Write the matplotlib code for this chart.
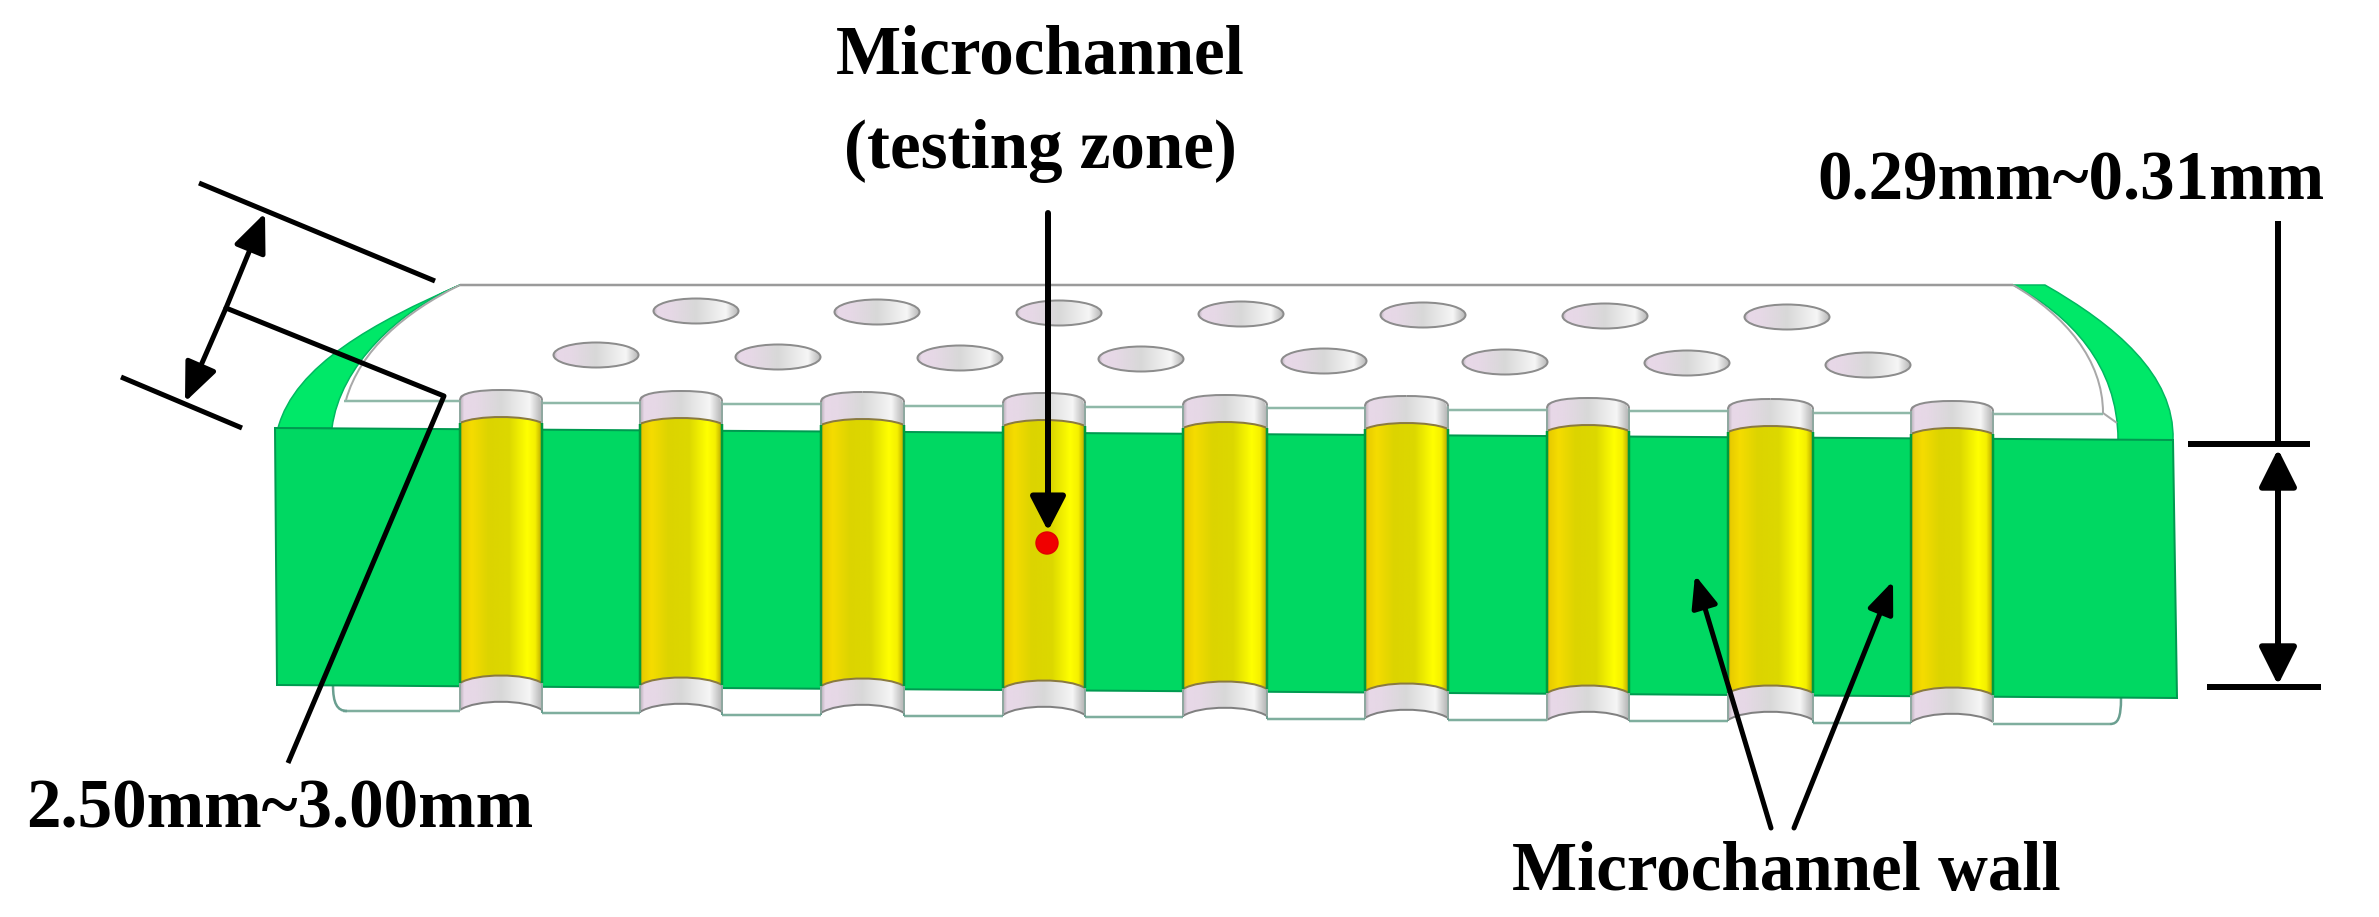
import numpy as np
import matplotlib
matplotlib.use("Agg")
import matplotlib.pyplot as plt
from matplotlib.colors import LinearSegmentedColormap
from matplotlib.patches import Ellipse, PathPatch, Circle
from matplotlib.path import Path

# everything in pixels
channel_left = [460, 640, 821, 1003, 1183, 1365, 1547, 1728, 1911]
channel_right = [542, 722, 904, 1085, 1267, 1448, 1629, 1813, 1993]
yellow_top = [415, 416, 417, 418, 420, 421, 423, 424, 426]
yellow_bottom = [673, 675, 676, 678, 679, 681, 683, 683, 685]

holes_back_x = [696, 877, 1059, 1241, 1423, 1605, 1787]
holes_back_y = [311, 312, 313, 314, 315, 316, 317]
holes_front_x = [596, 778, 960, 1141, 1324, 1505, 1687, 1868]
holes_front_y = [355, 357, 358, 359, 361, 362, 363, 365]

# strip pieces, left end, then one for every gap, then right end
strip_top = [401, 403, 404, 406, 407, 408, 410, 411, 413, 414]
strip_bottom = [711, 713, 715, 716, 717, 719, 720, 721, 723, 724]

body_outline = [(275, 428), (2173, 440), (2177, 698), (277, 685)]
labels = [("Microchannel", 1040, 74, "center"),
          ("(testing zone)", 1040, 168, "center"),
          ("0.29mm~0.31mm", 1817, 199, "left"),
          ("2.50mm~3.00mm", 26, 827, "left"),
          ("Microchannel wall", 1512, 890, "left")]

yellow_stops = [(0, "#c8a800"), (0.03, "#e8cc00"), (0.14, "#f5dc00"), (0.35, "#dcd400"),
                (0.6, "#dcd800"), (0.82, "#ffff00"), (0.92, "#f5f000"), (1, "#b8a800")]
cap_stops = [(0, "#b8b0b8"), (0.05, "#e8d8e8"), (0.2, "#e6d8e6"), (0.5, "#d8d8d8"),
             (0.85, "#f6f6f6"), (1, "#b4b4b4")]
yellow_map = LinearSegmentedColormap.from_list("yellow", yellow_stops)
cap_map = LinearSegmentedColormap.from_list("cap", cap_stops)

GREEN = "#00d862"
BRIGHT = "#00e868"
EDGE = "#009a50"
PX = 0.72  # one pixel in points at dpi 100

fig = plt.figure(figsize=(23.79, 9.17), dpi=100)
ax = fig.add_axes([0, 0, 1, 1])
ax.axis("off")


def shape(verts, codes, **kw):
    patch = PathPatch(Path(verts, codes), **kw)
    ax.add_patch(patch)
    return patch


def gradient(patch, x0, x1, y0, y1, cmap, zorder):
    im = ax.imshow(np.linspace(0, 1, 256)[None, :], extent=(x0, x1, y1, y0),
                   cmap=cmap, aspect="auto", zorder=zorder)
    im.set_clip_path(patch)


def arrow(start, tip, lw, length, width):
    style = "-|>,head_length=%f,head_width=%f" % (length * PX / 10, width * PX / 20)
    ax.annotate("", xy=tip, xytext=start,
                arrowprops=dict(arrowstyle=style, lw=lw * PX, color="k",
                                shrinkA=0, shrinkB=0, mutation_scale=10), zorder=10)


def line(points, lw, color="k", zorder=9):
    xs, ys = zip(*points)
    ax.plot(xs, ys, color=color, lw=lw * PX, solid_capstyle="butt", zorder=zorder)


C3 = [Path.MOVETO, Path.CURVE4, Path.CURVE4, Path.CURVE4]

# curved green sides of the back
shape([(460, 285), (375, 322), (295, 365), (278, 428), (332, 428), (340, 365), (400, 310), (460, 285), (460, 285)],
      [Path.MOVETO, Path.CURVE4, Path.CURVE4, Path.CURVE4, Path.LINETO, Path.CURVE4, Path.CURVE4, Path.CURVE4, Path.CLOSEPOLY],
      fc=BRIGHT, ec="#00b860", lw=1.5 * PX, zorder=2)
shape([(2045, 285), (2115, 325), (2175, 375), (2173, 440), (2118, 440), (2118, 365), (2070, 315), (2013, 285), (2045, 285)],
      [Path.MOVETO, Path.CURVE4, Path.CURVE4, Path.CURVE4, Path.LINETO, Path.CURVE4, Path.CURVE4, Path.CURVE4, Path.CLOSEPOLY],
      fc=BRIGHT, ec="#00b860", lw=1.5 * PX, zorder=2)

# thin outline of the top plate
line([(460, 285), (2013, 285)], 2.5, "#9a9a9a", 2)
shape([(460, 285), (405, 312), (360, 350), (346, 400)], C3, fc="none", ec="#a8a8a8", lw=2 * PX, zorder=2)
shape([(2013, 285), (2065, 315), (2103, 360), (2103, 413)], C3, fc="none", ec="#a8a8a8", lw=2 * PX, zorder=2)
line([(2103, 413), (2117, 423)], 2, "#a8a8a8", 2)

# top and bottom strip edges between the channels
gap_left = [344] + channel_right
gap_right = channel_left + [2103]
for x0, x1, y in zip(gap_left, gap_right, strip_top):
    line([(x0, y), (x1, y)], 2.5, "#8fb8a8", 2)
gap_left = [343] + channel_right
gap_right = channel_left + [2110]
for x0, x1, y in zip(gap_left, gap_right, strip_bottom):
    line([(x0, y), (x1, y)], 2.5, "#7fae9e", 2)
for x0, y in zip(channel_right[:-1], strip_bottom[1:-1]):
    line([(x0, y - 28), (x0, y)], 2, "#6a9f90", 2)
for x0, y in zip(channel_left[1:], strip_bottom[1:-1]):
    line([(x0, y - 28), (x0, y)], 2, "#6a9f90", 2)
shape([(333, 685), (333, 703), (337, 711), (347, 711)], C3, fc="none", ec="#6a9f90", lw=2.5 * PX, zorder=2)
shape([(2110, 724), (2118, 724), (2121, 718), (2121, 698)], C3, fc="none", ec="#6a9f90", lw=2.5 * PX, zorder=2)

# front face
body = plt.Polygon(body_outline, closed=True, fc=GREEN, ec=EDGE, lw=2 * PX, zorder=3)
ax.add_patch(body)

# channels
for x0, x1, yt, yb in zip(channel_left, channel_right, yellow_top, yellow_bottom):
    mid0 = x0 + (x1 - x0) * 0.2
    mid1 = x0 + (x1 - x0) * 0.8

    channel = shape([(x0, yt + 8), (mid0, yt), (mid1, yt), (x1, yt + 8), (x1, yb + 10), (mid1, yb), (mid0, yb), (x0, yb + 10), (x0, yt + 8)],
                    [Path.MOVETO, Path.CURVE4, Path.CURVE4, Path.CURVE4, Path.LINETO, Path.CURVE4, Path.CURVE4, Path.CURVE4, Path.CLOSEPOLY],
                    fc="none", ec="none", zorder=4)
    gradient(channel, x0, x1, yt, yb + 10, yellow_map, 4)

    cap_t = shape([(x0, yt + 8), (x0, yt - 18), (x0, yt - 22), (mid0, yt - 25), (mid1, yt - 25), (x1, yt - 22), (x1, yt - 18),
                   (x1, yt + 8), (mid1, yt), (mid0, yt), (x0, yt + 8), (x0, yt + 8)],
                  [Path.MOVETO, Path.LINETO, Path.CURVE4, Path.CURVE4, Path.CURVE4, Path.CURVE4, Path.CURVE4,
                   Path.LINETO, Path.CURVE4, Path.CURVE4, Path.CURVE4, Path.CLOSEPOLY],
                  fc="none", ec="none", zorder=4)
    gradient(cap_t, x0, x1, yt - 25, yt + 8, cap_map, 4)
    cap_b = shape([(x0, yb + 10), (mid0, yb), (mid1, yb), (x1, yb + 10), (x1, yb + 37), (mid1, yb + 26), (mid0, yb + 26), (x0, yb + 37), (x0, yb + 10)],
                  [Path.MOVETO, Path.CURVE4, Path.CURVE4, Path.CURVE4, Path.LINETO, Path.CURVE4, Path.CURVE4, Path.CURVE4, Path.CLOSEPOLY],
                  fc="none", ec="none", zorder=4)
    gradient(cap_b, x0, x1, yb, yb + 37, cap_map, 4)

    # outlines
    shape([(x0, yt - 15), (x0, yt - 22), (mid0, yt - 25), (x0 + (x1 - x0) / 2, yt - 25)], C3, fc="none", ec="#8c8c8c", lw=2 * PX, zorder=5)
    shape([(x1, yt - 15), (x1, yt - 22), (mid1, yt - 25), (x0 + (x1 - x0) / 2, yt - 25)], C3, fc="none", ec="#8c8c8c", lw=2 * PX, zorder=5)
    shape([(x0, yt + 8), (mid0, yt), (mid1, yt), (x1, yt + 8)], C3, fc="none", ec="#8a7a40", lw=2 * PX, zorder=5)
    shape([(x0, yb + 10), (mid0, yb), (mid1, yb), (x1, yb + 10)], C3, fc="none", ec="#8a7a40", lw=2 * PX, zorder=5)
    shape([(x0, yb + 37), (mid0, yb + 26), (mid1, yb + 26), (x1, yb + 37)], C3, fc="none", ec="#808080", lw=2 * PX, zorder=5)
    line([(x0, yt + 8), (x0, yb + 10)], 2.5, "#009a3c", 5)
    line([(x1, yt + 8), (x1, yb + 10)], 2.5, "#009a3c", 5)
    line([(x0, yt - 15), (x0, yt + 8)], 2, "#8fa8a0", 5)
    line([(x1, yt - 15), (x1, yt + 8)], 2, "#8fa8a0", 5)
    line([(x0, yb + 10), (x0, yb + 37)], 2, "#8fa8a0", 5)
    line([(x1, yb + 10), (x1, yb + 37)], 2, "#8fa8a0", 5)

# holes in the top plate
for xs, ys in ((holes_back_x, holes_back_y), (holes_front_x, holes_front_y)):
    for x, y in zip(xs, ys):
        hole = Ellipse((x, y), 85, 25, fc="none", ec="#8c8c8c", lw=2 * PX, zorder=5)
        ax.add_patch(hole)
        gradient(hole, x - 43, x + 43, y - 13, y + 13, cap_map, 4)

# dimensions on the left
line([(199, 183), (435, 281)], 5)
line([(121, 377), (242, 428)], 5)
line([(226, 308), (444, 396), (288, 763)], 5)
arrow((226, 308), (265, 213), 5, 33, 28)
arrow((226, 308), (185, 402), 5, 33, 28)

# dimensions on the right
line([(2188, 444), (2310, 444)], 6)
line([(2207, 687), (2321, 687)], 6)
line([(2278, 221), (2278, 444)], 6)
arrow((2278, 566), (2278, 449), 6, 32, 32)
arrow((2278, 566), (2278, 685), 6, 32, 32)

# testing zone
arrow((1048, 213), (1048, 531), 6, 29, 30)
ax.add_patch(Circle((1047, 543), 11, fc="#f00000", ec="#e00000", lw=1, zorder=11))

# wall arrows
arrow((1771, 828), (1695, 575), 5, 27, 22)
arrow((1794, 828), (1893, 581), 5, 27, 22)

for text, x, y, align in labels:
    ax.text(x, y, text, ha=align, va="baseline", fontsize=49.7,
            family="Liberation Serif", weight="bold", color="k", zorder=12)

ax.set_xlim(0, 2379)
ax.set_ylim(917, 0)
fig.savefig("out.png", dpi=100, facecolor="white")
